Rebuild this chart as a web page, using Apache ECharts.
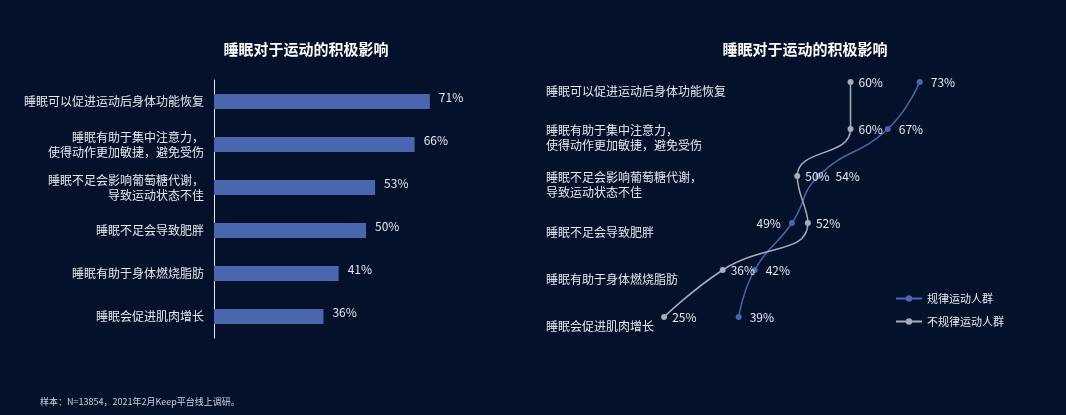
<!DOCTYPE html>
<html><head><meta charset="utf-8">
<script src="https://cdn.jsdelivr.net/npm/echarts@6/dist/echarts.min.js"></script>
<style>html,body{margin:0;background:#03122a}#chart{width:1066px;height:415px}</style>
</head><body><div id="chart"></div>
<script>
const categories = ['睡眠可以促进运动后身体功能恢复', '睡眠有助于集中注意力，\n使得动作更加敏捷，避免受伤', '睡眠不足会影响葡萄糖代谢，\n导致运动状态不佳', '睡眠不足会导致肥胖', '睡眠有助于身体燃烧脂肪', '睡眠会促进肌肉增长'];
const overall = [71, 66, 53, 50, 41, 36];
const regular = [73, 67, 54, 49, 42, 39];
const irregular = [60, 60, 50, 52, 36, 25];
const regularLabelPos = ['right', 'right', 'right', 'left', 'right', 'right'];

const font = 'Noto Sans CJK SC';
var myChart = echarts.init(document.getElementById('chart'));
myChart.setOption({
  backgroundColor: '#03122a',
  textStyle: {fontFamily: font, color: '#e6e9ef'},
  title: [
    {text: '睡眠对于运动的积极影响', left: 301, top: 37, textAlign: 'center', textStyle: {color: '#fff', fontSize: 15, fontWeight: 'bold', fontFamily: font}},
    {text: '睡眠对于运动的积极影响', left: 800, top: 37, textAlign: 'center', textStyle: {color: '#fff', fontSize: 15, fontWeight: 'bold', fontFamily: font}},
    {text: '样本：N=13854，2021年2月Keep平台线上调研。', left: 35, top: 392, textStyle: {color: '#cfd4de', fontSize: 9, fontWeight: 'normal', fontFamily: font}}
  ],
  legend: {
    orient: 'vertical', left: 890, top: 288, itemGap: 12, itemWidth: 26, itemHeight: 8,
    textStyle: {color: '#e6e9ef', fontSize: 11, fontFamily: font},
    data: ['规律运动人群', '不规律运动人群']
  },
  grid: [
    {left: 214, top: 80, width: 304, height: 258},
    {left: 531, top: 82, width: 426, bottom: 98},
    {left: 531, top: 91, width: 426, bottom: 89}
  ],
  xAxis: [
    {gridIndex: 0, type: 'value', min: 0, max: 100, show: false},
    {gridIndex: 1, type: 'value', min: 0, max: 80, show: false},
    {gridIndex: 2, type: 'value', min: 0, max: 80, show: false}
  ],
  yAxis: [
    {gridIndex: 0, type: 'category', inverse: true, data: categories,
      axisTick: {show: false}, axisLine: {lineStyle: {color: '#e6e9ef'}},
      axisLabel: {color: '#e6e9ef', fontSize: 12, lineHeight: 15, margin: 10, align: 'right'}},
    {gridIndex: 1, type: 'category', inverse: true, boundaryGap: false, data: categories, show: false},
    {gridIndex: 2, type: 'category', inverse: true, boundaryGap: false, data: categories,
      axisTick: {show: false}, axisLine: {show: false}, splitLine: {show: false},
      axisLabel: {inside: true, margin: 15, align: 'left', color: '#e6e9ef', fontSize: 12, lineHeight: 15}}
  ],
  series: [
    {type: 'bar', xAxisIndex: 0, yAxisIndex: 0, data: overall, barWidth: 15,
      itemStyle: {color: '#4a66ae'},
      label: {show: true, position: 'right', distance: 9, formatter: '{c}%', color: '#e6e9ef', fontSize: 12, offset: [0, -4]}},
    {name: '规律运动人群', type: 'line', xAxisIndex: 1, yAxisIndex: 1, smooth: true, symbol: 'circle', symbolSize: 6,
      data: regular.map((v, i) => ({value: v, label: {position: regularLabelPos[i], offset: i === 2 ? [6, 0] : [0, 0]}})),
      lineStyle: {color: '#4a66ae', width: 1.5}, itemStyle: {color: '#4a66ae'},
      label: {show: true, formatter: '{c}%', color: '#e6e9ef', fontSize: 12, distance: 8}},
    {name: '不规律运动人群', type: 'line', xAxisIndex: 1, yAxisIndex: 1, smooth: true, symbol: 'circle', symbolSize: 6,
      data: irregular, lineStyle: {color: '#a6acb8', width: 1.5}, itemStyle: {color: '#a6acb8'},
      label: {show: true, position: 'right', formatter: '{c}%', color: '#e6e9ef', fontSize: 12, distance: 5}}
  ]
});
</script></body></html>
